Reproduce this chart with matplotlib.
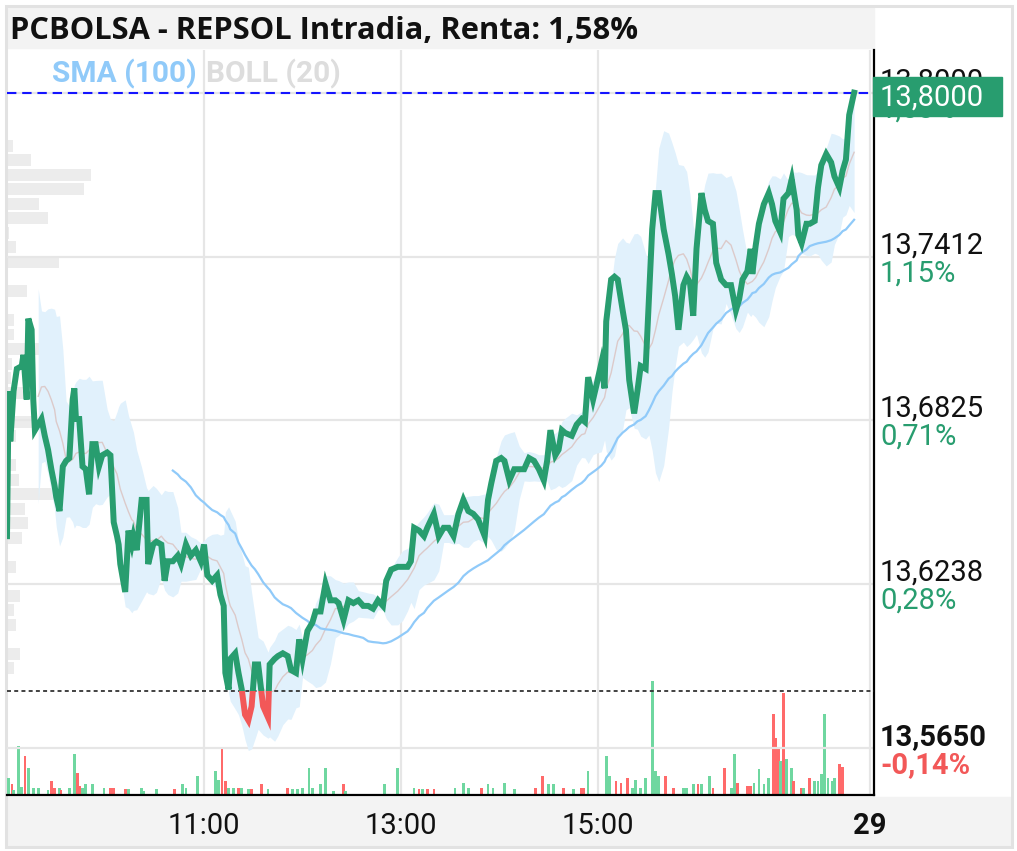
import numpy as np
import matplotlib
matplotlib.use("Agg")
import matplotlib.pyplot as plt
from matplotlib.patches import Rectangle
import matplotlib.transforms as mtransforms

# ---------------- data ----------------
minute = [0, 1, 2, 4, 6, 9, 10, 12, 13, 15,
          16, 17, 19, 21, 23, 25, 27, 29, 30, 32,
          34, 36, 38, 40, 41, 42, 44, 46, 48, 50,
          52, 54, 56, 58, 61, 63, 65, 67, 68, 69,
          72, 74, 76, 77, 79, 82, 85, 86, 89, 91,
          94, 96, 98, 101, 104, 106, 109, 112, 115, 118,
          120, 122, 125, 128, 130, 132, 133, 135, 136, 139,
          141, 143, 145, 147, 149, 151, 153, 156, 159, 160,
          163, 165, 168, 171, 173, 176, 178, 180, 183, 186,
          188, 191, 194, 197, 200, 202, 205, 208, 211, 214,
          217, 220, 223, 226, 229, 231, 234, 238, 241, 244,
          246, 248, 251, 254, 256, 260, 263, 266, 269, 272,
          275, 278, 281, 284, 287, 291, 293, 295, 298, 301,
          303, 306, 309, 312, 315, 318, 321, 324, 327, 329,
          331, 334, 336, 338, 340, 344, 347, 350, 352, 354,
          357, 359, 362, 364, 365, 368, 370, 372, 375, 377,
          379, 382, 384, 386, 389, 391, 393, 395, 397, 400,
          403, 405, 407, 409, 412, 414, 416, 418, 420, 423,
          425, 427, 430, 432, 435, 438, 441, 444, 446, 448,
          451, 453, 454, 456, 458, 461, 464, 466, 468, 471,
          473, 476, 478, 481, 482, 484, 487, 489, 492, 494,
          496, 499, 502, 504, 507, 509, 511, 513, 516]

prices = [13.641, 13.693, 13.675, 13.693, 13.701, 13.702, 13.706, 13.690, 13.719, 13.715,
          13.690, 13.679, 13.681, 13.683, 13.677, 13.672, 13.665, 13.659, 13.655, 13.650,
          13.666, 13.668, 13.669, 13.690, 13.694, 13.683, 13.683, 13.666, 13.665, 13.656,
          13.674, 13.674, 13.666, 13.670, 13.671, 13.670, 13.646, 13.641, 13.638, 13.631,
          13.621, 13.643, 13.638, 13.641, 13.636, 13.654, 13.654, 13.631, 13.638, 13.639,
          13.638, 13.625, 13.632, 13.632, 13.634, 13.631, 13.638, 13.634, 13.636, 13.632,
          13.638, 13.627, 13.625, 13.627, 13.620, 13.616, 13.592, 13.586, 13.597, 13.599,
          13.592, 13.586, 13.577, 13.575, 13.580, 13.595, 13.595, 13.580, 13.576, 13.595,
          13.597, 13.598, 13.599, 13.598, 13.593, 13.592, 13.604, 13.597, 13.607, 13.610,
          13.614, 13.614, 13.624, 13.618, 13.618, 13.617, 13.611, 13.618, 13.617, 13.618,
          13.616, 13.616, 13.615, 13.618, 13.616, 13.625, 13.629, 13.630, 13.630, 13.630,
          13.632, 13.644, 13.643, 13.641, 13.644, 13.649, 13.641, 13.644, 13.644, 13.641,
          13.649, 13.654, 13.650, 13.649, 13.647, 13.641, 13.654, 13.660, 13.668, 13.669,
          13.668, 13.661, 13.665, 13.665, 13.665, 13.669, 13.668, 13.665, 13.661, 13.668,
          13.679, 13.670, 13.672, 13.679, 13.678, 13.677, 13.681, 13.683, 13.682, 13.698,
          13.690, 13.695, 13.703, 13.694, 13.718, 13.733, 13.734, 13.733, 13.722, 13.715,
          13.697, 13.685, 13.693, 13.702, 13.701, 13.726, 13.751, 13.764, 13.764, 13.751,
          13.742, 13.735, 13.727, 13.715, 13.731, 13.734, 13.732, 13.720, 13.744, 13.764,
          13.758, 13.754, 13.753, 13.739, 13.733, 13.731, 13.731, 13.722, 13.726, 13.733,
          13.736, 13.744, 13.735, 13.745, 13.753, 13.760, 13.764, 13.760, 13.754, 13.750,
          13.762, 13.764, 13.769, 13.758, 13.749, 13.746, 13.753, 13.753, 13.754, 13.766,
          13.774, 13.778, 13.775, 13.770, 13.766, 13.772, 13.776, 13.792, 13.800]

vol_minute = [1, 3, 4, 7, 9, 11, 13, 16, 19, 25,
              27, 29, 32, 33, 38, 41, 43, 44, 46, 48,
              52, 59, 63, 65, 72, 74, 82, 83, 91, 102,
              107, 109, 116, 127, 129, 131, 133, 135, 138, 141,
              143, 147, 149, 155, 159, 171, 174, 177, 180, 184,
              186, 191, 194, 199, 205, 206, 230, 238, 240, 248,
              251, 253, 256, 260, 273, 278, 281, 289, 293, 296,
              303, 309, 322, 326, 330, 333, 339, 345, 350, 351,
              354, 360, 365, 367, 371, 374, 378, 381, 383, 386,
              389, 393, 395, 397, 401, 406, 412, 414, 418, 421,
              423, 428, 430, 437, 441, 442, 443, 445, 451, 453,
              455, 458, 461, 464, 467, 468, 470, 471, 473, 475,
              478, 479, 484, 485, 489, 492, 494, 496, 498, 500,
              503, 504, 507, 509]
vol_k = [17, 11, 5, 49, 8, 39, 27, 7, 7, 5,
         14, 7, 7, 5, 7, 41, 22, 9, 7, 11,
         11, 7, 7, 7, 6, 6, 7, 4, 6, 6,
         11, 7, 19, 24, 15, 47, 14, 7, 7, 7,
         7, 6, 6, 11, 6, 7, 6, 6, 7, 27,
         7, 11, 27, 4, 11, 4, 11, 27, 7, 7,
         6, 6, 6, 6, 7, 12, 7, 7, 11, 7,
         12, 6, 7, 19, 11, 11, 7, 6, 7, 7,
         24, 7, 39, 19, 14, 12, 17, 7, 15, 7,
         17, 114, 24, 19, 19, 7, 7, 7, 11, 11,
         11, 19, 7, 27, 7, 7, 41, 12, 9, 9,
         12, 26, 11, 17, 81, 57, 47, 34, 102, 36,
         27, 14, 7, 7, 17, 14, 14, 21, 81, 17,
         14, 17, 31, 28]
vol_up = [1, 0, 1, 1, 1, 0, 1, 1, 1, 1,
          0, 0, 1, 0, 1, 1, 0, 0, 1, 1,
          1, 1, 0, 0, 0, 1, 1, 1, 1, 0,
          1, 1, 1, 1, 1, 0, 0, 1, 1, 0,
          1, 1, 0, 0, 1, 0, 1, 1, 1, 1,
          1, 1, 1, 1, 0, 1, 1, 1, 1, 1,
          0, 1, 0, 0, 1, 1, 1, 0, 1, 1,
          1, 1, 0, 0, 1, 1, 0, 1, 0, 0,
          1, 1, 1, 1, 0, 0, 0, 1, 1, 1,
          1, 1, 1, 1, 0, 0, 1, 1, 1, 0,
          1, 1, 0, 0, 1, 1, 1, 0, 0, 0,
          1, 1, 1, 1, 0, 0, 0, 1, 0, 1,
          1, 0, 0, 1, 0, 1, 1, 1, 1, 1,
          1, 1, 0, 0]

profile_price = [13.7809, 13.7757, 13.7705, 13.7653, 13.7601, 13.7549, 13.7497, 13.7445,
                 13.7393, 13.7341, 13.7289, 13.7237, 13.7185, 13.7133, 13.7081, 13.7029,
                 13.6977, 13.6925, 13.6873, 13.6821, 13.6769, 13.6717, 13.6665, 13.6613,
                 13.6561, 13.6509, 13.6457, 13.6405, 13.6353, 13.6301, 13.6249, 13.6197,
                 13.6145, 13.6093, 13.6041, 13.5989, 13.5937, 13.5885, 13.5833, 13.5781,
                 13.5729]
profile_vol = [6, 24, 84, 77, 32, 41, 2, 9, 52, 0, 20, 0, 7, 7, 37, 5, 4, 19, 5, 29,
               9, 0, 9, 12, 50, 18, 21, 15, 1, 9, 0, 13, 7, 9, 0, 13, 7, 0, 0, 0, 1]

tick_prices = [13.5650, 13.6238, 13.6825, 13.7412, 13.8000]
tick_pct = ["-0,14%", "0,28%", "0,71%", "1,15%", "1,58%"]
ref_close = 13.5855
last_price = 13.8000
time_ticks = [120, 240, 360, 525.5]
time_labels = ["11:00", "13:00", "15:00", "29"]
title = "PCBOLSA - REPSOL Intradia, Renta: 1,58%"

# ---------------- style ----------------
plt.rcParams["font.family"] = ["Roboto", "DejaVu Sans"]
GREEN = "#289d6f"
RED = "#f25858"

W, H = 1017, 851
fig = plt.figure(figsize=(W / 100, H / 100), dpi=100)
fig.patch.set_facecolor("white")

def fx(px):
    return px / W

def fy(py):
    return 1 - py / H

rect = [fx(7), fy(795), fx(874) - fx(7), fy(50) - fy(795)]
XMIN, XMAX = 0, (874 - 7) / 1.6417
YMIN, YMAX = 13.5482, 13.8153

# volume profile (bottom layer)
axp = fig.add_axes(rect, zorder=0)
axp.set_xlim(0, 866)
axp.set_ylim(YMIN, YMAX)
axp.barh(profile_price, profile_vol, height=0.0043, left=0, color="#ececec", lw=0)
axp.axis("off")

# main axes
ax = fig.add_axes(rect, zorder=2)
ax.patch.set_visible(False)
ax.set_xlim(XMIN, XMAX)
ax.set_ylim(YMIN, YMAX)

# volume axes
axv = ax.twinx()
axv.set_zorder(1)
axv.patch.set_visible(False)
axv.set_ylim(0, 745)
vcolors = ["#6fd7a0" if u else "#ff6a6a" for u in vol_up]
axv.bar(vol_minute, vol_k, width=1.6, color=vcolors, lw=0)
axv.axis("off")
ax.set_zorder(2)

# grid
ax.set_yticks(tick_prices)
ax.set_yticklabels([])
ax.tick_params(axis="y", length=0)
ax.set_xticks(time_ticks)
ax.set_xticklabels(time_labels, fontsize=21, color="#111111")
ax.get_xticklabels()[-1].set_fontweight("bold")
ax.tick_params(axis="x", length=0, pad=12)
ax.grid(True, color="#e6e6e6", lw=1.6)
ax.set_axisbelow(True)
for s in ["top", "left"]:
    ax.spines[s].set_visible(False)
for s in ["right", "bottom"]:
    ax.spines[s].set_color("black")
    ax.spines[s].set_linewidth(1.6)

# indicators computed from the price series
t = np.array(minute, dtype=float)
p = np.array(prices, dtype=float)

def rolling(window):
    m = np.full(len(t), np.nan)
    s = np.full(len(t), np.nan)
    for i in range(len(t)):
        if t[i] < window - 1:
            continue
        sel = (t > t[i] - window) & (t <= t[i])
        m[i] = p[sel].mean()
        s[i] = p[sel].std()
    return m, s

bmid, bstd = rolling(20)
ok = ~np.isnan(bmid)
ax.fill_between(t[ok], bmid[ok] - 2 * bstd[ok], bmid[ok] + 2 * bstd[ok],
                color="#e1f1fc", lw=0, zorder=1)
ax.plot(t[ok], bmid[ok], color="#dccaca", lw=1.0, zorder=1.5)

sma, _ = rolling(100)
ok2 = ~np.isnan(sma)
ax.plot(t[ok2], sma[ok2], color="#90caf9", lw=1.6, zorder=2)

# reference lines
ax.axhline(last_price, color="#1414ff", lw=1.5, dashes=(4.5, 2.8), zorder=3)
ax.axhline(ref_close, color="#333333", lw=1.3, dashes=(2.2, 1.8), zorder=3)

# price line, green above previous close, red below
lg, = ax.plot(t, p, color=GREEN, lw=4.3, solid_joinstyle="miter", zorder=4)
lr, = ax.plot(t, p, color=RED, lw=4.3, solid_joinstyle="miter", zorder=4)
clip_up = Rectangle((XMIN, ref_close), XMAX - XMIN, 1.0, transform=ax.transData)
clip_dn = Rectangle((XMIN, ref_close - 1.0), XMAX - XMIN, 1.0, transform=ax.transData)
lg.set_clip_path(clip_up)
lr.set_clip_path(clip_dn)

# ---------------- frame & bands ----------------
fig.patches.append(Rectangle((fx(7), fy(48)), fx(874) - fx(7), fy(8) - fy(48),
                             transform=fig.transFigure, color="#f3f3f3", zorder=0.5))
fig.patches.append(Rectangle((fx(7), fy(846)), fx(1011) - fx(7), fy(797) - fy(846),
                             transform=fig.transFigure, color="#f3f3f3", zorder=0.5))
fig.patches.append(Rectangle((fx(5.5), fy(846.5)), fx(1011.5) - fx(5.5), fy(5.5) - fy(846.5),
                             transform=fig.transFigure, fill=False, edgecolor="#e2e2e2",
                             lw=2.2, zorder=0.6))

fig.text(fx(10), fy(39), title, fontsize=22.2, fontweight="bold",
         family=["Open Sans", "DejaVu Sans"], color="#111111", va="baseline")
fig.text(fx(52), fy(82), "SMA (100)", fontsize=21.5, fontweight="bold", color="#90caf9", va="baseline")
fig.text(fx(206), fy(82), "BOLL (20)", fontsize=21.5, fontweight="bold", color="#dddddd", va="baseline")

# right-side labels
blend = mtransforms.blended_transform_factory(fig.transFigure, ax.transData)
for i, v in enumerate(tick_prices):
    lab = f"{v:.4f}".replace(".", ",")
    plab = tick_pct[i]
    is_low = i == 0
    pcol = RED if plab.startswith("-") else GREEN
    tr1 = mtransforms.offset_copy(blend, fig=fig, x=0, y=3.5, units="dots")
    tr2 = mtransforms.offset_copy(blend, fig=fig, x=0, y=-24.5, units="dots")
    fig.text(fx(880), v, lab, transform=tr1, fontsize=21, color="#111111", va="baseline",
             fontweight="bold" if is_low else "normal", zorder=3)
    fig.text(fx(880), v, plab, transform=tr2, fontsize=21, color=pcol, va="baseline",
             fontweight="bold" if is_low else "normal", zorder=3)

# current price box
fig.patches.append(Rectangle((fx(873), fy(116)), fx(1002) - fx(873), fy(77) - fy(116),
                             transform=fig.transFigure, color=GREEN, zorder=5))
fig.text(fx(880), fy(105.5), f"{last_price:.4f}".replace(".", ","), fontsize=21,
         color="white", va="baseline", zorder=6)

fig.savefig("out.png", dpi=100, facecolor="white")
